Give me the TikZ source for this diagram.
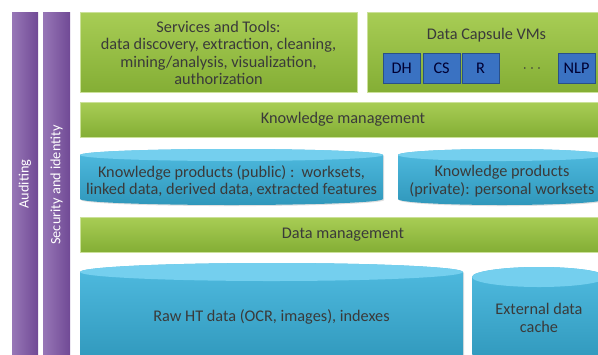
\documentclass[tikz,border=0pt]{standalone}
\usepackage{fontspec}
\setmainfont{Carlito}
\usetikzlibrary{positioning,shadows}
\definecolor{layergreenhi}{HTML}{A8CD55}
\definecolor{layergreenlo}{HTML}{84AE35}
\definecolor{sidepurple}{HTML}{7A50A2}
\definecolor{storeblue}{HTML}{38B2DC}
\definecolor{storetop}{HTML}{74CFEE}
\definecolor{vmblue}{HTML}{3A72C2}
\definecolor{inkgray}{HTML}{3A3A3A}

\tikzset{
  txt/.style={text=inkgray, align=center, font=\fontsize{12.2}{13.2}\selectfont},
  sidetxt/.style={text=white, rotate=90, font=\fontsize{10.7}{12}\selectfont},
  layer/.style={draw=layergreenhi!60!white, line width=0.5pt,
    top color=layergreenhi, bottom color=layergreenlo,
    drop shadow={opacity=0.25, shadow xshift=0.8pt, shadow yshift=-0.8pt}},
  side/.style={left color=sidepurple!78!white, right color=sidepurple!92!black},
  vmbox/.style={draw=vmblue!70!black, line width=0.4pt, fill=vmblue,
    anchor=north west, inner sep=0pt, minimum width=27.5pt, minimum height=22.5pt,
    text=black!80!blue, font=\fontsize{12.2}{13.2}\selectfont,
    drop shadow={opacity=0.25, shadow xshift=0.6pt, shadow yshift=-0.6pt}}
}

% left, right, top, bottom, ry (all in px)
\newcommand{\storedrum}[5]{%
  \pgfmathsetmacro\drumrx{(#2-#1)/2}
  \pgfmathsetmacro\drumcx{(#1+#2)/2}
  \shade[top color=storeblue!88!white, bottom color=storeblue!85!black,
    drop shadow={opacity=0.25, shadow xshift=0.8pt, shadow yshift=-0.8pt}]
    (#1,-#3-#5) -- (#1,-#4+#5)
    arc[start angle=180, end angle=360, x radius=\drumrx, y radius=#5]
    -- (#2,-#3-#5)
    arc[start angle=0, end angle=180, x radius=\drumrx, y radius=#5] -- cycle;
  \fill[storetop] (\drumcx,-#3-#5) ellipse[x radius=\drumrx, y radius=#5];
}

\begin{document}
\begin{tikzpicture}[x=0.75pt, y=0.75pt]
  \path[use as bounding box] (0,0) rectangle (598,-354);
  \clip (0,0) rectangle (598,-354);

  % ── Side bars ──
  \shade[side] (12,-12) rectangle (38,-360);
  \shade[side] (43,-12) rectangle (70,-360);
  \node[sidetxt] (auditing) at (25,-184) {Auditing};
  \node[sidetxt] (security) at (56.5,-185) {Security and identity};

  % ── Services / VMs ──
  \path[layer] (80,-12) rectangle (357,-92);
  \node[txt] (services) at (218.5,-53)
    {Services and Tools:\\data discovery, extraction, cleaning,\\mining/analysis, visualization,\\authorization};
  \path[layer] (367,-12) rectangle (606,-92);
  \node[txt] (capsule) at (486.5,-35) {Data Capsule VMs};
  \foreach \vm/\xx in {DH/383, CS/423, R/462, NLP/558}
    \node[vmbox] (vm\vm) at (\xx,-53) {\vm};
  \node[txt] (vmdots) at (532,-69) {$\cdots$};

  % ── Knowledge layer ──
  \path[layer] (80,-102) rectangle (606,-137);
  \node[txt] (knowmgmt) at (343,-119.5) {Knowledge management};
  \storedrum{80}{383}{149}{205}{6}
  \storedrum{398}{606}{149}{205}{6}
  \node[txt] (kpublic) at (231.5,-181)
    {Knowledge products (public) :\ \ worksets,\\linked data, derived data, extracted features};
  \node[txt] (kprivate) at (502,-181)
    {Knowledge products\\(private): personal worksets};

  % ── Data layer ──
  \path[layer] (80,-217) rectangle (606,-252);
  \node[txt] (datamgmt) at (343,-234.5) {Data management};
  \storedrum{80}{463}{263}{364}{9}
  \storedrum{472}{606}{267}{364}{10}
  \node[txt] (rawdata) at (271.5,-317) {Raw HT data (OCR, images), indexes};
  \node[txt] (extcache) at (539,-318) {External data\\cache};

\end{tikzpicture}
\end{document}
